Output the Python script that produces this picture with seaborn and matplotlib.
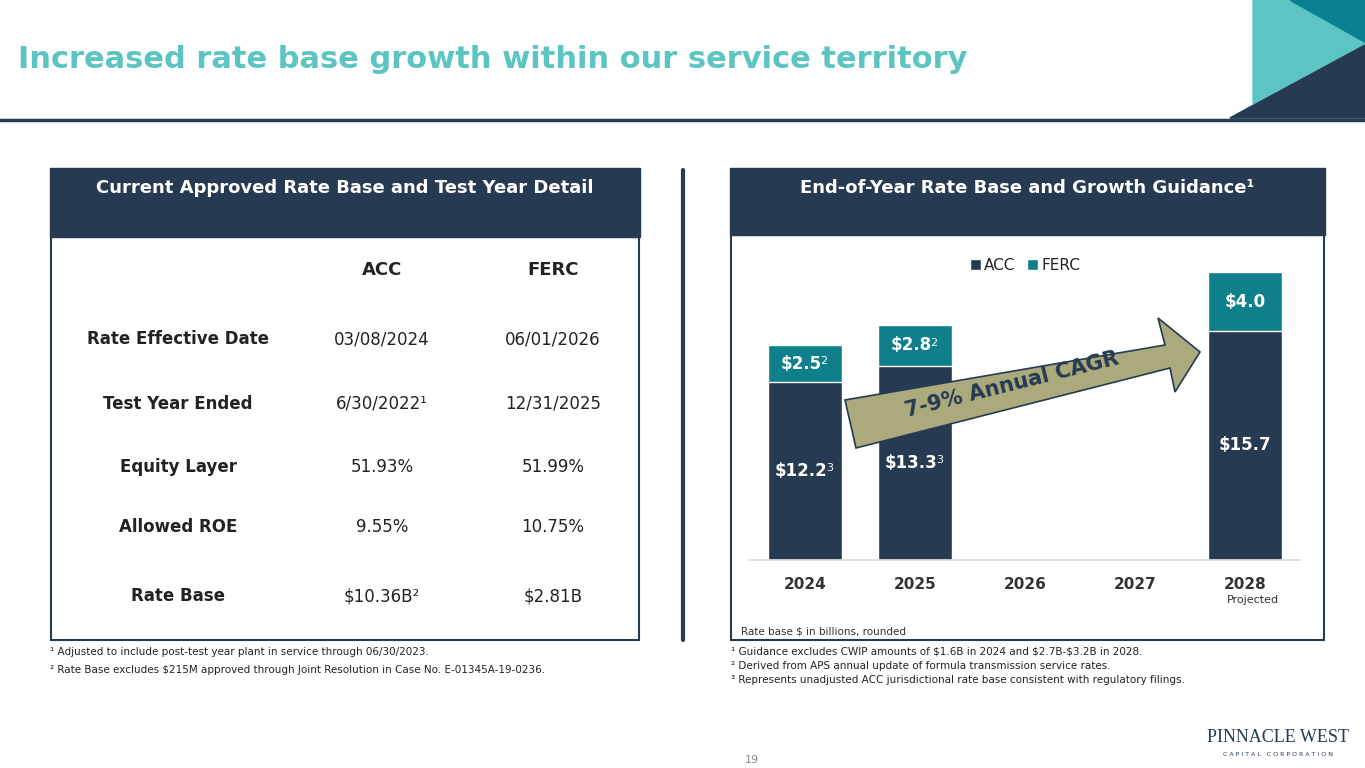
import matplotlib
matplotlib.use("Agg")
import matplotlib.pyplot as plt
import seaborn as sns
import pandas as pd
from matplotlib.patches import Polygon, Rectangle

# data
years = ["2024", "2025", "2026", "2027", "2028"]
acc = [12.2, 13.3, 0, 0, 15.7]
ferc = [2.5, 2.8, 0, 0, 4.0]
acc_labels = ["$12.2", "$13.3", "", "", "$15.7"]
acc_sup = ["3", "3", "", "", ""]
ferc_labels = ["$2.5", "$2.8", "", "", "$4.0"]
ferc_sup = ["2", "2", "", "", ""]

row_names = ["Rate Effective Date", "Test Year Ended", "Equity Layer", "Allowed ROE", "Rate Base"]
acc_col = ["03/08/2024", "6/30/2022¹", "51.93%", "9.55%", "$10.36B²"]
ferc_col = ["06/01/2026", "12/31/2025", "51.99%", "10.75%", "$2.81B"]

NAVY = "#263A52"
TEAL = "#0F7F8C"
LTEAL = "#5CC5C3"
OLIVE = "#ABAA7C"

sns.set_theme(style="white")
plt.rcParams['font.family'] = ['DejaVu Sans']

fig = plt.figure(figsize=(13.65, 7.68), dpi=100)
W, H = 1365, 768
def fx(x): return x / W
def fy(y): return 1 - y / H

def ftext(x, y, s, **kw):
    fig.text(fx(x), fy(y), s, **kw)

def frect(x0, y0, x1, y1, **kw):
    fig.patches.append(Rectangle((fx(x0), fy(y1)), fx(x1) - fx(x0), fy(y0) - fy(y1),
                                 transform=fig.transFigure, figure=fig, **kw))

def fpoly(pts, **kw):
    fig.patches.append(Polygon([(fx(a), fy(b)) for a, b in pts], closed=True,
                               transform=fig.transFigure, figure=fig, **kw))

# title and header line
ftext(18, 60, "Increased rate base growth within our service territory", color=LTEAL,
      fontsize=22, fontweight="bold", va="center")
fpoly([(1253, 0), (1365, 0), (1365, 118), (1230, 118), (1253, 105)], color=LTEAL)
fpoly([(1290, 0), (1365, 0), (1365, 42)], color="#0A8090")
fpoly([(1230, 118), (1365, 45), (1365, 118)], color=NAVY)
fig.add_artist(plt.Line2D([0, 1], [fy(120), fy(120)], color=NAVY, lw=2.5))

# left panel
frect(50, 168, 640, 237, color=NAVY)
ftext(345, 188, "Current Approved Rate Base and Test Year Detail", color="white",
      fontsize=13, fontweight="bold", ha="center", va="center")
frect(51, 237, 639, 640, fill=False, edgecolor=NAVY, lw=1.5)
ftext(382, 270, "ACC", fontsize=13, fontweight="bold", ha="center", va="center", color="#222")
ftext(553, 270, "FERC", fontsize=13, fontweight="bold", ha="center", va="center", color="#222")
for yy, n, a, f in zip([339, 404, 467, 527, 596], row_names, acc_col, ferc_col):
    ftext(178, yy, n, fontsize=12, fontweight="bold", ha="center", va="center", color="#222")
    ftext(382, yy, a, fontsize=12, ha="center", va="center", color="#222")
    ftext(553, yy, f, fontsize=12, ha="center", va="center", color="#222")
ftext(50, 652, "¹ Adjusted to include post-test year plant in service through 06/30/2023.",
      fontsize=7.5, va="center", color="#222")
ftext(50, 670, "² Rate Base excludes $215M approved through Joint Resolution in Case No. E-01345A-19-0236.",
      fontsize=7.5, va="center", color="#222")

# divider
fig.add_artist(plt.Line2D([fx(683), fx(683)], [fy(170), fy(640)], color=NAVY, lw=3))

# right panel
frect(730, 168, 1325, 235, color=NAVY)
ftext(1027, 188, "End-of-Year Rate Base and Growth Guidance¹", color="white",
      fontsize=13, fontweight="bold", ha="center", va="center")
frect(731, 235, 1324, 640, fill=False, edgecolor=NAVY, lw=1.5)

ax = fig.add_axes([fx(750), fy(560), fx(1300) - fx(750), fy(250) - fy(560)])
df = pd.DataFrame({"year": years, "ACC": acc, "FERC": ferc})
df["total"] = df["ACC"] + df["FERC"]
sns.barplot(data=df, x="year", y="total", color=TEAL, width=0.68, saturation=1, ax=ax, label="FERC")
sns.barplot(data=df, x="year", y="ACC", color=NAVY, width=0.68, saturation=1, ax=ax, label="ACC")
ax.set_ylim(0, (560 - 250) / 14.6)
ax.set_yticks([])
ax.set_xlabel("")
ax.set_ylabel("")
for s in ["top", "right", "left"]:
    ax.spines[s].set_visible(False)
ax.spines["bottom"].set_color("#D9D9D9")
ax.tick_params(axis="x", length=0, pad=12)
for t in ax.get_xticklabels():
    t.set_fontweight("bold")
    t.set_fontsize(11)
    t.set_color("#333")

def bar_label(x, y, s, sup):
    off = -3 if sup else 0
    ax.annotate(s, (x, y), xytext=(off, 0), textcoords="offset points", color="white",
                fontsize=12, fontweight="bold", ha="center", va="center")
    if sup:
        pad = 18 if len(s) > 4 else 14
        ax.annotate(sup, (x, y), xytext=(off + pad, 2), textcoords="offset points",
                    color="white", fontsize=8, ha="left", va="center")

for i in range(len(years)):
    if acc_labels[i]:
        bar_label(i, acc[i] / 2, acc_labels[i], acc_sup[i])
        bar_label(i, acc[i] + ferc[i] / 2, ferc_labels[i], ferc_sup[i])
h, l = ax.get_legend_handles_labels()
ax.legend(h[::-1], l[::-1], loc="upper center", bbox_to_anchor=(0.5, 1.02), ncol=2, frameon=False,
          fontsize=11, handlelength=0.7, handleheight=0.7, handletextpad=0.2, columnspacing=0.8)

# CAGR arrow
fpoly([(845, 400), (1165, 345), (1158, 318), (1200, 352), (1175, 392), (1170, 368), (856, 448)],
      facecolor=OLIVE, edgecolor=NAVY, lw=1.2)
ftext(1012, 385, "7-9% Annual CAGR", fontsize=15, fontweight="bold", color=NAVY,
      ha="center", va="center", rotation=14)

ftext(1253, 600, "Projected", fontsize=8, ha="center", va="center", color="#333")
ftext(741, 632, "Rate base $ in billions, rounded", fontsize=7.5, va="center", color="#333")
ftext(731, 652, "¹ Guidance excludes CWIP amounts of $1.6B in 2024 and $2.7B-$3.2B in 2028.",
      fontsize=7.5, va="center", color="#222")
ftext(731, 666, "² Derived from APS annual update of formula transmission service rates.",
      fontsize=7.5, va="center", color="#222")
ftext(731, 680, "³ Represents unadjusted ACC jurisdictional rate base consistent with regulatory filings.",
      fontsize=7.5, va="center", color="#222")

# footer
ftext(752, 760, "19", fontsize=8, ha="center", va="center", color="#888")
ftext(1278, 738, "PINNACLE WEST", fontsize=13, ha="center", va="center", color=NAVY,
      family="Liberation Serif")
ftext(1278, 754, "C A P I T A L   C O R P O R A T I O N", fontsize=4.5, ha="center",
      va="center", color=NAVY)

fig.savefig("out.png", dpi=100)
